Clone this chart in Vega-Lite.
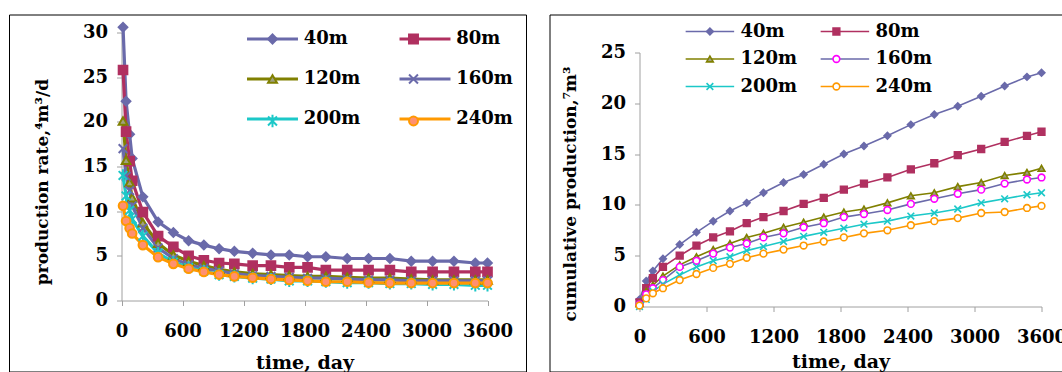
{
  "$schema": "https://vega.github.io/schema/vega-lite/v6.json",
  "padding": {"left": 8, "top": 13.5, "right": 0, "bottom": 0},
  "autosize": {"type": "pad"},
  "background": "white",
  "resolve": {"scale": {"color": "independent", "shape": "independent", "fill": "independent", "stroke": "independent"}},
  "config": {
    "view": {"stroke": "#000000", "strokeWidth": 1},
    "concat": {"spacing": 21.5},
    "axis": {
      "grid": false, "domainColor": "#A0A0A0", "tickColor": "#A0A0A0", "tickSize": 5,
      "labelFont": "DejaVu Serif", "labelFontSize": 18, "labelFontWeight": "bold", "labelColor": "#000000",
      "titleFont": "DejaVu Serif", "titleFontWeight": "bold", "titleColor": "#000000",
      "labelFlush": false, "labelOverlap": false, "format": "d"
    },
    "legend": {
      "labelFont": "DejaVu Serif", "labelFontSize": 18, "labelFontWeight": "bold", "labelColor": "#000000",
      "padding": 0, "labelLimit": 300, "columns": 2, "direction": "horizontal"
    }
  },
  "datasets": {
    "rate": [
      {"s":"40m","t":15,"v":30.6},{"s":"40m","t":45,"v":22.3},{"s":"40m","t":80,"v":18.6},{"s":"40m","t":105,"v":15.9},{"s":"40m","t":210,"v":11.6},{"s":"40m","t":360,"v":8.8},{"s":"40m","t":510,"v":7.6},{"s":"40m","t":660,"v":6.7},{"s":"40m","t":810,"v":6.2},{"s":"40m","t":960,"v":5.8},{"s":"40m","t":1110,"v":5.5},{"s":"40m","t":1290,"v":5.3},{"s":"40m","t":1470,"v":5.1},{"s":"40m","t":1650,"v":5.1},{"s":"40m","t":1830,"v":4.9},{"s":"40m","t":2010,"v":4.9},{"s":"40m","t":2220,"v":4.7},{"s":"40m","t":2430,"v":4.7},{"s":"40m","t":2640,"v":4.7},{"s":"40m","t":2850,"v":4.4},{"s":"40m","t":3060,"v":4.4},{"s":"40m","t":3270,"v":4.4},{"s":"40m","t":3480,"v":4.2},{"s":"40m","t":3600,"v":4.2},
      {"s":"80m","t":15,"v":25.8},{"s":"80m","t":45,"v":18.9},{"s":"80m","t":80,"v":15.6},{"s":"80m","t":105,"v":13.4},{"s":"80m","t":210,"v":9.9},{"s":"80m","t":360,"v":7.2},{"s":"80m","t":510,"v":6.0},{"s":"80m","t":660,"v":5.0},{"s":"80m","t":810,"v":4.5},{"s":"80m","t":960,"v":4.2},{"s":"80m","t":1110,"v":4.1},{"s":"80m","t":1290,"v":3.9},{"s":"80m","t":1470,"v":3.9},{"s":"80m","t":1650,"v":3.7},{"s":"80m","t":1830,"v":3.7},{"s":"80m","t":2010,"v":3.4},{"s":"80m","t":2220,"v":3.4},{"s":"80m","t":2430,"v":3.4},{"s":"80m","t":2640,"v":3.4},{"s":"80m","t":2850,"v":3.2},{"s":"80m","t":3060,"v":3.2},{"s":"80m","t":3270,"v":3.2},{"s":"80m","t":3480,"v":3.2},{"s":"80m","t":3600,"v":3.2},
      {"s":"120m","t":15,"v":20.1},{"s":"120m","t":45,"v":15.7},{"s":"120m","t":80,"v":13.2},{"s":"120m","t":105,"v":11.5},{"s":"120m","t":210,"v":8.7},{"s":"120m","t":360,"v":6.4},{"s":"120m","t":510,"v":5.1},{"s":"120m","t":660,"v":4.4},{"s":"120m","t":810,"v":3.9},{"s":"120m","t":960,"v":3.5},{"s":"120m","t":1110,"v":3.2},{"s":"120m","t":1290,"v":3.0},{"s":"120m","t":1470,"v":2.9},{"s":"120m","t":1650,"v":2.8},{"s":"120m","t":1830,"v":2.7},{"s":"120m","t":2010,"v":2.7},{"s":"120m","t":2220,"v":2.6},{"s":"120m","t":2430,"v":2.5},{"s":"120m","t":2640,"v":2.5},{"s":"120m","t":2850,"v":2.4},{"s":"120m","t":3060,"v":2.3},{"s":"120m","t":3270,"v":2.3},{"s":"120m","t":3480,"v":2.3},{"s":"120m","t":3600,"v":2.3},
      {"s":"160m","t":15,"v":17.0},{"s":"160m","t":45,"v":13.9},{"s":"160m","t":80,"v":12.3},{"s":"160m","t":105,"v":10.6},{"s":"160m","t":210,"v":8.1},{"s":"160m","t":360,"v":5.9},{"s":"160m","t":510,"v":4.7},{"s":"160m","t":660,"v":4.0},{"s":"160m","t":810,"v":3.6},{"s":"160m","t":960,"v":3.3},{"s":"160m","t":1110,"v":3.0},{"s":"160m","t":1290,"v":2.8},{"s":"160m","t":1470,"v":2.7},{"s":"160m","t":1650,"v":2.6},{"s":"160m","t":1830,"v":2.5},{"s":"160m","t":2010,"v":2.5},{"s":"160m","t":2220,"v":2.4},{"s":"160m","t":2430,"v":2.3},{"s":"160m","t":2640,"v":2.3},{"s":"160m","t":2850,"v":2.2},{"s":"160m","t":3060,"v":2.2},{"s":"160m","t":3270,"v":2.2},{"s":"160m","t":3480,"v":2.2},{"s":"160m","t":3600,"v":2.2},
      {"s":"200m","t":15,"v":14.0},{"s":"200m","t":45,"v":11.7},{"s":"200m","t":80,"v":10.1},{"s":"200m","t":105,"v":9.1},{"s":"200m","t":210,"v":7.2},{"s":"200m","t":360,"v":5.3},{"s":"200m","t":510,"v":4.3},{"s":"200m","t":660,"v":3.7},{"s":"200m","t":810,"v":3.3},{"s":"200m","t":960,"v":2.9},{"s":"200m","t":1110,"v":2.7},{"s":"200m","t":1290,"v":2.5},{"s":"200m","t":1470,"v":2.4},{"s":"200m","t":1650,"v":2.2},{"s":"200m","t":1830,"v":2.2},{"s":"200m","t":2010,"v":2.1},{"s":"200m","t":2220,"v":2.0},{"s":"200m","t":2430,"v":2.0},{"s":"200m","t":2640,"v":1.9},{"s":"200m","t":2850,"v":1.9},{"s":"200m","t":3060,"v":1.8},{"s":"200m","t":3270,"v":1.8},{"s":"200m","t":3480,"v":1.7},{"s":"200m","t":3600,"v":1.7},
      {"s":"240m","t":15,"v":10.6},{"s":"240m","t":45,"v":8.9},{"s":"240m","t":80,"v":8.1},{"s":"240m","t":105,"v":7.5},{"s":"240m","t":210,"v":6.2},{"s":"240m","t":360,"v":4.85},{"s":"240m","t":510,"v":4.1},{"s":"240m","t":660,"v":3.55},{"s":"240m","t":810,"v":3.2},{"s":"240m","t":960,"v":2.9},{"s":"240m","t":1110,"v":2.7},{"s":"240m","t":1290,"v":2.55},{"s":"240m","t":1470,"v":2.4},{"s":"240m","t":1650,"v":2.3},{"s":"240m","t":1830,"v":2.2},{"s":"240m","t":2010,"v":2.1},{"s":"240m","t":2220,"v":2.1},{"s":"240m","t":2430,"v":2.0},{"s":"240m","t":2640,"v":1.95},{"s":"240m","t":2850,"v":1.95},{"s":"240m","t":3060,"v":1.95},{"s":"240m","t":3270,"v":1.95},{"s":"240m","t":3480,"v":1.95},{"s":"240m","t":3600,"v":1.95}
    ],
    "cum": [
      {"s":"40m","t":0,"v":0.7},{"s":"40m","t":60,"v":2.5},{"s":"40m","t":120,"v":3.5},{"s":"40m","t":210,"v":4.7},{"s":"40m","t":360,"v":6.1},{"s":"40m","t":510,"v":7.3},{"s":"40m","t":660,"v":8.4},{"s":"40m","t":810,"v":9.4},{"s":"40m","t":960,"v":10.2},{"s":"40m","t":1110,"v":11.2},{"s":"40m","t":1290,"v":12.2},{"s":"40m","t":1470,"v":13.0},{"s":"40m","t":1650,"v":14.0},{"s":"40m","t":1830,"v":15.0},{"s":"40m","t":2010,"v":15.8},{"s":"40m","t":2220,"v":16.8},{"s":"40m","t":2430,"v":17.9},{"s":"40m","t":2640,"v":18.9},{"s":"40m","t":2850,"v":19.7},{"s":"40m","t":3060,"v":20.7},{"s":"40m","t":3270,"v":21.7},{"s":"40m","t":3470,"v":22.6},{"s":"40m","t":3600,"v":23.0},
      {"s":"80m","t":0,"v":0.4},{"s":"80m","t":60,"v":1.8},{"s":"80m","t":120,"v":2.8},{"s":"80m","t":210,"v":3.9},{"s":"80m","t":360,"v":5.0},{"s":"80m","t":510,"v":6.0},{"s":"80m","t":660,"v":6.8},{"s":"80m","t":810,"v":7.4},{"s":"80m","t":960,"v":8.2},{"s":"80m","t":1110,"v":8.8},{"s":"80m","t":1290,"v":9.4},{"s":"80m","t":1470,"v":10.1},{"s":"80m","t":1650,"v":10.7},{"s":"80m","t":1830,"v":11.5},{"s":"80m","t":2010,"v":12.1},{"s":"80m","t":2220,"v":12.7},{"s":"80m","t":2430,"v":13.5},{"s":"80m","t":2640,"v":14.1},{"s":"80m","t":2850,"v":14.9},{"s":"80m","t":3060,"v":15.5},{"s":"80m","t":3270,"v":16.2},{"s":"80m","t":3470,"v":16.8},{"s":"80m","t":3600,"v":17.2},
      {"s":"120m","t":0,"v":0.3},{"s":"120m","t":60,"v":1.5},{"s":"120m","t":120,"v":2.1},{"s":"120m","t":210,"v":3.0},{"s":"120m","t":360,"v":4.1},{"s":"120m","t":510,"v":4.9},{"s":"120m","t":660,"v":5.6},{"s":"120m","t":810,"v":6.2},{"s":"120m","t":960,"v":6.8},{"s":"120m","t":1110,"v":7.2},{"s":"120m","t":1290,"v":7.8},{"s":"120m","t":1470,"v":8.3},{"s":"120m","t":1650,"v":8.8},{"s":"120m","t":1830,"v":9.3},{"s":"120m","t":2010,"v":9.6},{"s":"120m","t":2220,"v":10.2},{"s":"120m","t":2430,"v":10.9},{"s":"120m","t":2640,"v":11.2},{"s":"120m","t":2850,"v":11.8},{"s":"120m","t":3060,"v":12.2},{"s":"120m","t":3270,"v":12.9},{"s":"120m","t":3470,"v":13.2},{"s":"120m","t":3600,"v":13.6},
      {"s":"160m","t":0,"v":0.2},{"s":"160m","t":60,"v":1.2},{"s":"160m","t":120,"v":1.8},{"s":"160m","t":210,"v":2.6},{"s":"160m","t":360,"v":3.9},{"s":"160m","t":510,"v":4.5},{"s":"160m","t":660,"v":5.2},{"s":"160m","t":810,"v":5.8},{"s":"160m","t":960,"v":6.2},{"s":"160m","t":1110,"v":6.8},{"s":"160m","t":1290,"v":7.2},{"s":"160m","t":1470,"v":7.8},{"s":"160m","t":1650,"v":8.2},{"s":"160m","t":1830,"v":8.8},{"s":"160m","t":2010,"v":9.1},{"s":"160m","t":2220,"v":9.5},{"s":"160m","t":2430,"v":10.1},{"s":"160m","t":2640,"v":10.6},{"s":"160m","t":2850,"v":11.1},{"s":"160m","t":3060,"v":11.5},{"s":"160m","t":3270,"v":12.1},{"s":"160m","t":3470,"v":12.5},{"s":"160m","t":3600,"v":12.7},
      {"s":"200m","t":0,"v":0.0},{"s":"200m","t":60,"v":0.7},{"s":"200m","t":120,"v":1.5},{"s":"200m","t":210,"v":2.2},{"s":"200m","t":360,"v":3.1},{"s":"200m","t":510,"v":3.9},{"s":"200m","t":660,"v":4.5},{"s":"200m","t":810,"v":4.9},{"s":"200m","t":960,"v":5.5},{"s":"200m","t":1110,"v":5.9},{"s":"200m","t":1290,"v":6.4},{"s":"200m","t":1470,"v":6.9},{"s":"200m","t":1650,"v":7.3},{"s":"200m","t":1830,"v":7.7},{"s":"200m","t":2010,"v":8.1},{"s":"200m","t":2220,"v":8.4},{"s":"200m","t":2430,"v":8.9},{"s":"200m","t":2640,"v":9.2},{"s":"200m","t":2850,"v":9.6},{"s":"200m","t":3060,"v":10.2},{"s":"200m","t":3270,"v":10.6},{"s":"200m","t":3470,"v":11.0},{"s":"200m","t":3600,"v":11.2},
      {"s":"240m","t":0,"v":0.1},{"s":"240m","t":60,"v":0.8},{"s":"240m","t":120,"v":1.3},{"s":"240m","t":210,"v":1.8},{"s":"240m","t":360,"v":2.6},{"s":"240m","t":510,"v":3.2},{"s":"240m","t":660,"v":3.8},{"s":"240m","t":810,"v":4.2},{"s":"240m","t":960,"v":4.8},{"s":"240m","t":1110,"v":5.2},{"s":"240m","t":1290,"v":5.6},{"s":"240m","t":1470,"v":6.0},{"s":"240m","t":1650,"v":6.4},{"s":"240m","t":1830,"v":6.8},{"s":"240m","t":2010,"v":7.2},{"s":"240m","t":2220,"v":7.5},{"s":"240m","t":2430,"v":8.0},{"s":"240m","t":2640,"v":8.4},{"s":"240m","t":2850,"v":8.7},{"s":"240m","t":3060,"v":9.2},{"s":"240m","t":3270,"v":9.3},{"s":"240m","t":3470,"v":9.7},{"s":"240m","t":3600,"v":9.9}
    ]
  },
  "hconcat": [
    {
      "width": 517, "height": 357,
      "data": {"name": "rate"},
      "encoding": {
        "x": {"field": "t", "type": "quantitative",
          "scale": {"domain": [0, 3600], "range": [112.5, 478.5], "nice": false, "zero": false},
          "axis": {"values": [0,600,1200,1800,2400,3000,3600], "offset": -71, "labelPadding": 17, "title": "time, day", "titleFontSize": 19, "titleY": 52.5}},
        "y": {"field": "v", "type": "quantitative",
          "scale": {"domain": [0, 30], "range": [286, 18], "nice": false},
          "axis": {"values": [0,5,10,15,20,25,30], "offset": -112.5, "labelPadding": 9, "title": "production rate,⁴m³/d", "titleFontSize": 17, "titleX": -70, "titleY": 167}}
      },
      "layer": [
        {
          "mark": {"type": "line", "strokeWidth": 3.2},
          "encoding": {
            "color": {"field": "s", "type": "nominal",
              "scale": {"domain": ["40m","80m","120m","160m","200m","240m"], "range": ["#6A6AAA","#B03060","#808000","#6A6AAA","#1CC8C8","#FF9900"]},
              "legend": {"orient": "none", "legendX": 254.5, "legendY": 15.5, "title": null, "symbolType": "M-6.58,0H6.58", "symbolSize": 60, "symbolStrokeWidth": 3.2, "labelOffset": 22.3, "columnPadding": 32.5, "rowPadding": 22}}
          }
        },
        {
          "mark": {"type": "point", "size": 75, "opacity": 1, "strokeWidth": 2},
          "encoding": {
            "shape": {"field": "s", "type": "nominal", "sort": null,
              "scale": {"range": ["diamond","square","triangle-up","M-1,-1L1,1M-1,1L1,-1","M-1,-1L1,1M-1,1L1,-1M0,-1.4V1.4","circle"]},
              "legend": {"orient": "none", "legendX": 254.5, "legendY": 15.5, "title": null, "symbolSize": 80, "symbolStrokeWidth": 2, "labelOffset": 22.3, "columnPadding": 100, "rowPadding": 22, "labelExpr": "''"}},
            "fill": {"field": "s", "type": "nominal", "sort": null,
              "scale": {"range": ["#6A6AAA","#B03060","#A0A080","transparent","transparent","#FF9070"]}},
            "stroke": {"field": "s", "type": "nominal", "sort": null,
              "scale": {"range": ["#6A6AAA","#B03060","#808000","#6A6AAA","#1CC8C8","#FF9900"]}}
          }
        }
      ]
    },
    {
      "width": 514, "height": 357,
      "data": {"name": "cum"},
      "encoding": {
        "x": {"field": "t", "type": "quantitative",
          "scale": {"domain": [0, 3600], "range": [90, 492], "nice": false, "zero": false},
          "axis": {"values": [0,600,1200,1800,2400,3000,3600], "offset": -65, "labelPadding": 17, "title": "time, day", "titleFontSize": 19, "titleY": 46}},
        "y": {"field": "v", "type": "quantitative",
          "scale": {"domain": [0, 25], "range": [292, 38], "nice": false},
          "axis": {"values": [0,5,10,15,20,25], "offset": -90, "labelPadding": 9, "title": "cumulative production,⁷m³", "titleFontSize": 17, "titleX": -60, "titleY": 179}}
      },
      "layer": [
        {
          "mark": {"type": "line", "strokeWidth": 1.6},
          "encoding": {
            "color": {"field": "s", "type": "nominal",
              "scale": {"domain": ["40m","80m","120m","160m","200m","240m"], "range": ["#6A6AAA","#B03060","#808000","#6A6AAA","#1CC8C8","#FF9900"]},
              "legend": {"orient": "none", "legendX": 151.4, "legendY": 8, "title": null, "symbolType": "M-7.23,0H7.23", "symbolSize": 45, "symbolStrokeWidth": 1.6, "labelOffset": 21.6, "columnPadding": 19, "rowPadding": 9.5}}
          }
        },
        {
          "mark": {"type": "point", "size": 45, "opacity": 1, "strokeWidth": 1.6},
          "encoding": {
            "shape": {"field": "s", "type": "nominal", "sort": null,
              "scale": {"range": ["diamond","square","triangle-up","circle","M-1,-1L1,1M-1,1L1,-1","circle"]},
              "legend": {"orient": "none", "legendX": 151.4, "legendY": 8, "title": null, "symbolSize": 45, "symbolStrokeWidth": 1.6, "labelOffset": 21.6, "columnPadding": 86.5, "rowPadding": 9.5, "labelExpr": "''"}},
            "fill": {"field": "s", "type": "nominal", "sort": null,
              "scale": {"range": ["#6A6AAA","#B03060","#A0A080","#FFFFFF","transparent","#FFFFFF"]}},
            "stroke": {"field": "s", "type": "nominal", "sort": null,
              "scale": {"range": ["#6A6AAA","#B03060","#808000","#FF00FF","#1CC8C8","#FF9900"]}}
          }
        }
      ]
    }
  ]
}
